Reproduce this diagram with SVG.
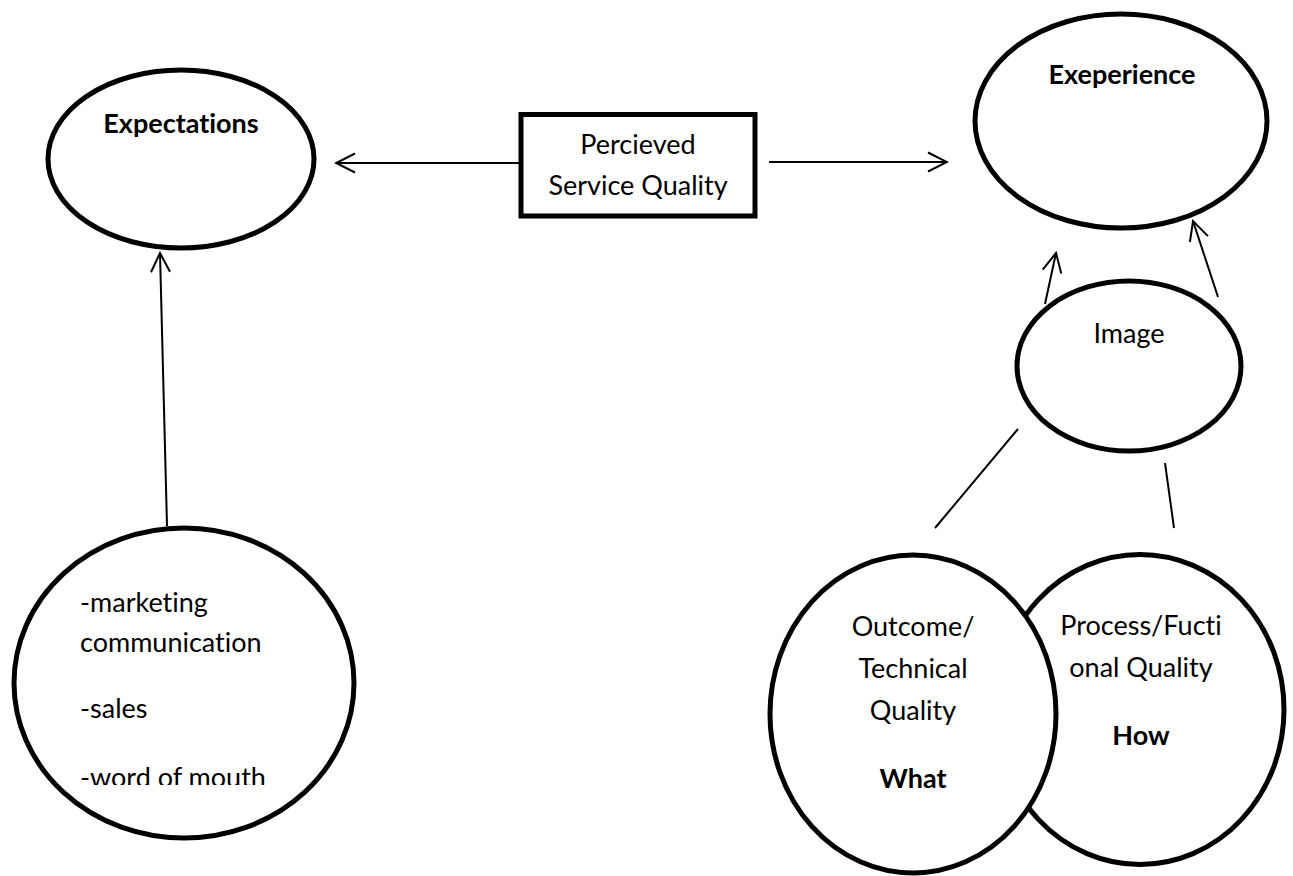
<svg xmlns="http://www.w3.org/2000/svg" width="1293" height="876" viewBox="0 0 1293 876">
  <style>
    .node { fill: #ffffff; stroke: #000000; stroke-width: 5; }
    .conn { fill: none; stroke: #000000; stroke-width: 2; }
    .lbl { font-family: Lato, "Open Sans", "Liberation Sans", sans-serif; font-size: 27px; fill: #000000; font-variant-ligatures: none; }
    .bold { font-weight: bold; }
    .mid { text-anchor: middle; }
  </style>
  <defs>
    <marker id="open-arrow" viewBox="0 0 22 22" refX="20" refY="11" markerWidth="22" markerHeight="22" markerUnits="userSpaceOnUse" orient="auto">
      <path d="M1,1.5 L20,11 L1,20.5" fill="none" stroke="#000000" stroke-width="2"/>
    </marker>
    <clipPath id="sources-clip">
      <rect x="0" y="0" width="400" height="785"/>
    </clipPath>
  </defs>

  <rect width="1293" height="876" fill="#ffffff"/>

  <g id="connectors">
    <line class="conn" x1="520" y1="163" x2="336" y2="163" marker-end="url(#open-arrow)"/>
    <line class="conn" x1="769" y1="162" x2="947" y2="162" marker-end="url(#open-arrow)"/>
    <line class="conn" x1="167" y1="526" x2="160" y2="253" marker-end="url(#open-arrow)"/>
    <line class="conn" x1="1045" y1="304" x2="1056" y2="253" marker-end="url(#open-arrow)"/>
    <line class="conn" x1="1218" y1="297" x2="1193" y2="221" marker-end="url(#open-arrow)"/>
    <line class="conn" x1="1018" y1="429" x2="935" y2="528"/>
    <line class="conn" x1="1165" y1="463" x2="1174" y2="528"/>
  </g>

  <g id="expectations">
    <ellipse class="node" cx="181" cy="159" rx="133" ry="89"/>
    <text class="lbl bold mid" x="181" y="133">Expectations</text>
  </g>

  <g id="perceived-quality">
    <rect class="node" x="521" y="114.5" width="234" height="101.5"/>
    <text class="lbl mid" x="638" y="154">Percieved</text>
    <text class="lbl mid" x="638" y="195">Service Quality</text>
  </g>

  <g id="experience">
    <ellipse class="node" cx="1121" cy="121" rx="146" ry="107"/>
    <text class="lbl bold mid" x="1122" y="84">Exeperience</text>
  </g>

  <g id="image">
    <ellipse class="node" cx="1129" cy="366" rx="112" ry="85"/>
    <text class="lbl mid" x="1129" y="343">Image</text>
  </g>

  <g id="sources">
    <ellipse class="node" cx="184" cy="683" rx="170" ry="155"/>
    <g clip-path="url(#sources-clip)">
      <text class="lbl" x="80" y="612">-marketing</text>
      <text class="lbl" x="80" y="652">communication</text>
      <text class="lbl" x="80" y="718">-sales</text>
      <text class="lbl" x="80" y="787">-word of mouth</text>
    </g>
  </g>

  <g id="functional-quality">
    <ellipse class="node" cx="1140" cy="709.5" rx="144" ry="155"/>
    <text class="lbl mid" x="1141" y="635">Process/Fucti</text>
    <text class="lbl mid" x="1141" y="677">onal Quality</text>
    <text class="lbl bold mid" x="1141" y="745">How</text>
  </g>

  <g id="technical-quality">
    <ellipse class="node" cx="913" cy="714" rx="143" ry="159"/>
    <text class="lbl mid" x="913" y="636">Outcome/</text>
    <text class="lbl mid" x="913" y="678">Technical</text>
    <text class="lbl mid" x="913" y="720">Quality</text>
    <text class="lbl bold mid" x="913" y="788">What</text>
  </g>
</svg>
